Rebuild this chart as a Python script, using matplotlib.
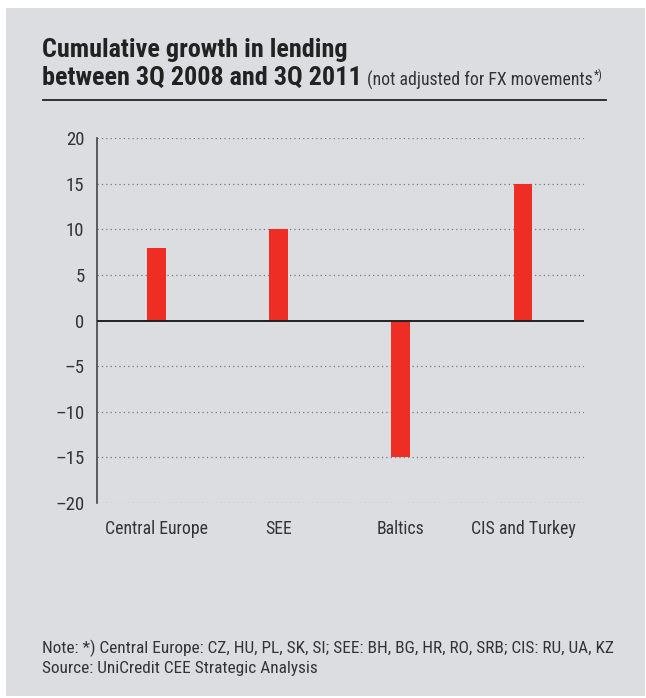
import numpy as np
import matplotlib.pyplot as plt
from matplotlib.patches import Rectangle
from matplotlib.lines import Line2D

regions = ['Central Europe', 'SEE', 'Baltics', 'CIS and Turkey']
growth = [8, 10, -15, 15]
yticks = [20, 15, 10, 5, 0, -5, -10, -15, -20]
ytick_labels = [str(t) if t >= 0 else '\u2013' + str(-t) for t in yticks]

plt.rcParams['font.family'] = ['Roboto Condensed', 'DejaVu Sans']

W, H = 646, 698
fig = plt.figure(figsize=(W/100, H/100), dpi=100)
fig.patch.set_facecolor('white')

# grey panel behind everything
fig.add_artist(Rectangle((6/W, 1 - 696/H), 639/W, 688/H, transform=fig.transFigure,
                         facecolor='#dcdde0', edgecolor='none', zorder=0))

ax = fig.add_axes((97/W, 1 - 503/H, 487/W, 365/H))
ax.set_facecolor('none')

x = np.arange(len(regions))
ax.bar(x, growth, width=0.155, color='#ee2d24', zorder=3)
ax.axhline(0, color='#222222', lw=1.4, zorder=4)

ax.set_xlim(-0.49, 3.5)
ax.set_ylim(-20, 20)
ax.set_yticks(yticks)
ax.set_yticklabels(ytick_labels)
for t in yticks:
    if t != 0:
        ax.axhline(t, color='#777777', lw=0.9, ls=(0, (1, 2.5)), zorder=1)

ax.set_xticks(x)
ax.set_xticklabels(regions, fontsize=12.8)
ax.tick_params(axis='both', length=0, colors='#333333')
ax.tick_params(axis='y', pad=9, labelsize=13.5)
ax.tick_params(axis='x', pad=12)
for s in ['top', 'right', 'bottom']:
    ax.spines[s].set_visible(False)
ax.spines['left'].set_color('#444444')
ax.spines['left'].set_linewidth(1.2)

# title block
fig.text(42/W, 1 - 50/H, 'Cumulative growth in lending', fontsize=18.8, fontweight='bold',
         color='#222222', va='center')
t2 = fig.text(42/W, 1 - 78/H, 'between 3Q 2008 and 3Q 2011', fontsize=18.8, fontweight='bold',
              color='#222222', va='center')
fig.canvas.draw()
bb = t2.get_window_extent()
sub = fig.text(bb.x1/W + 5/W, 1 - 80/H, '(not adjusted for FX movements', fontsize=12.8,
               color='#333333', va='center')
fig.canvas.draw()
sb = sub.get_window_extent()
fig.text(sb.x1/W + 1/W, 1 - 75/H, '*)', fontsize=8.5, color='#333333', va='center')
fig.add_artist(Line2D([43/W, 606/W], [1 - 100/H, 1 - 100/H], transform=fig.transFigure,
                      color='#222222', lw=1.3))

# notes
fig.text(42/W, 1 - 648/H, 'Note: *) Central Europe: CZ, HU, PL, SK, SI; SEE: BH, BG, HR, RO, SRB; CIS: RU, UA, KZ',
         fontsize=12.4, color='#333333', va='center')
fig.text(42/W, 1 - 669/H, 'Source: UniCredit CEE Strategic Analysis',
         fontsize=12.4, color='#333333', va='center')

fig.savefig('out.png', dpi=100)
